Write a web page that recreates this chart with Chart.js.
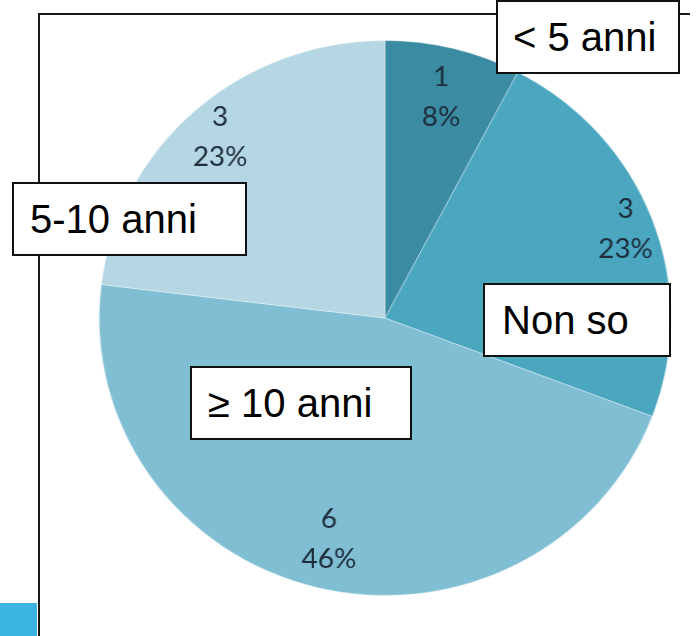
<!DOCTYPE html>
<html>
<head>
<meta charset="utf-8">
<script src="https://cdn.jsdelivr.net/npm/chart.js@4/dist/chart.umd.min.js"></script>
<style>
  html, body { margin: 0; padding: 0; background: #fff; }
  #stage { position: relative; width: 699px; height: 636px; overflow: hidden; }
  .frame-top { position: absolute; left: 38px; top: 13px; width: 652px; height: 2px; background: #1a1a1a; }
  .frame-left { position: absolute; left: 38px; top: 13px; width: 2px; height: 623px; background: #1a1a1a; }
  .corner { position: absolute; left: 0; top: 603px; width: 37px; height: 33px; background: #3cb4e1; }
  .pie-wrap { position: absolute; left: 107px; top: 40px; width: 556px; height: 556px;
              transform: scaleX(1.03); transform-origin: 50% 50%; }
  .tag { position: absolute; box-sizing: border-box; height: 74px; border: 2px solid #111;
         background: #fff; font-family: "Liberation Sans", Arial, sans-serif; font-size: 40px;
         line-height: 70px; color: #000; white-space: nowrap; }
</style>
</head>
<body>
<div id="stage">
  <div class="frame-top"></div>
  <div class="frame-left"></div>
  <div class="corner"></div>
  <div class="pie-wrap"><canvas id="pie" width="556" height="556"></canvas></div>
</div>
<script>
// data, clockwise from 12 o'clock
const categories = ['< 5 anni', 'Non so', '≥ 10 anni', '5-10 anni'];
const counts = [1, 3, 6, 3];
const sliceColors = ['#3b8ca3', '#4aa7bf', '#80bed3', '#b5d7e3'];

// where each category box sits (left, top, width, text indent)
const tagBoxes = [
  [496, 0, 184, 15],
  [483, 283, 188, 17],
  [190, 366, 222, 16],
  [12, 182, 235, 16]
];
// how far out along the radius the value labels sit
const labelRadius = [0.82, 0.9, 0.82, 0.87];

const stage = document.getElementById('stage');
categories.forEach((name, i) => {
  const [l, t, w, pad] = tagBoxes[i];
  const el = document.createElement('div');
  el.className = 'tag';
  el.style.left = l + 'px';
  el.style.top = t + 'px';
  el.style.width = w + 'px';
  el.style.paddingLeft = pad + 'px';
  el.textContent = name;
  stage.appendChild(el);
});

const total = counts.reduce((a, b) => a + b, 0);

const valueLabels = {
  id: 'valueLabels',
  afterDatasetsDraw(chart) {
    const ctx = chart.ctx;
    const arcs = chart.getDatasetMeta(0).data;
    ctx.save();
    ctx.font = '27px Lato, "Open Sans", sans-serif';
    ctx.fillStyle = '#1d2b3a';
    ctx.textAlign = 'center';
    ctx.textBaseline = 'middle';
    arcs.forEach((arc, i) => {
      const p = arc.getProps(['x', 'y', 'startAngle', 'endAngle', 'outerRadius'], true);
      const mid = (p.startAngle + p.endAngle) / 2;
      const r = p.outerRadius * labelRadius[i];
      const cx = p.x + Math.cos(mid) * r;
      const cy = p.y + Math.sin(mid) * r;
      const pct = Math.round(counts[i] / total * 100) + '%';
      ctx.fillText(String(counts[i]), cx, cy - 20);
      ctx.fillText(pct, cx, cy + 20);
    });
    ctx.restore();
  }
};

new Chart(document.getElementById('pie'), {
  type: 'pie',
  data: {
    labels: categories,
    datasets: [{
      data: counts,
      backgroundColor: sliceColors,
      borderColor: 'rgba(255,255,255,0.35)',
      borderWidth: 1
    }]
  },
  options: {
    responsive: false,
    animation: false,
    layout: { padding: 0 },
    plugins: {
      legend: { display: false },
      tooltip: { enabled: false }
    }
  },
  plugins: [valueLabels]
});
</script>
</body>
</html>
